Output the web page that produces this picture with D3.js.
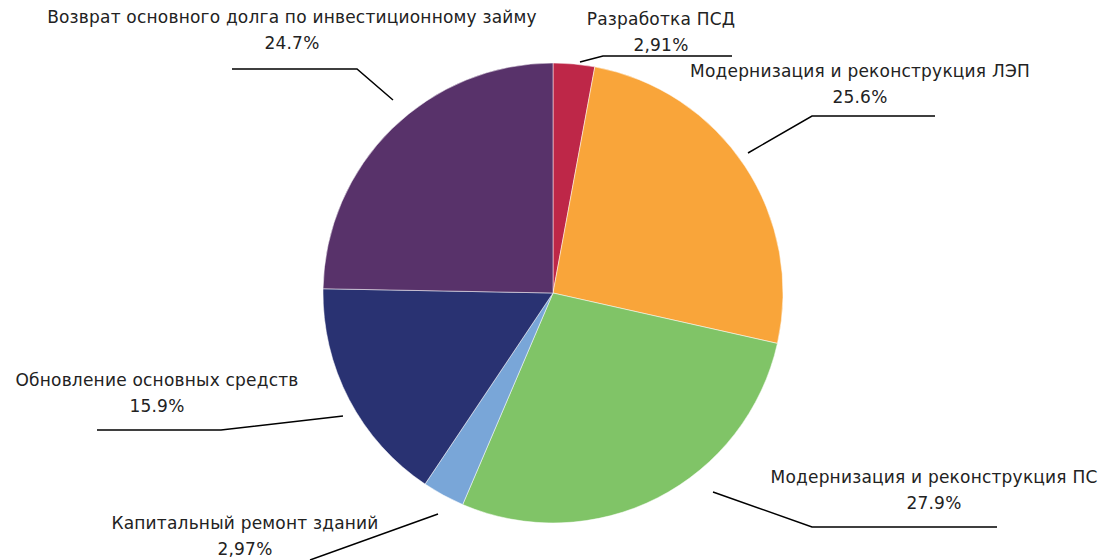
<!DOCTYPE html>
<html lang="ru">
<head>
<meta charset="UTF-8">
<title>Структура инвестиций</title>
<script src="https://cdn.jsdelivr.net/npm/d3@7"></script>
<style>
  body { margin: 0; background: #fff; }
  text { font-family: "DejaVu Sans", sans-serif; font-size: 17px; letter-spacing: 0.2px; fill: #222; }
</style>
</head>
<body>
<svg width="1106" height="560"></svg>
<script>
// данные диаграммы
var categories = [
  "Разработка ПСД",
  "Модернизация и реконструкция ЛЭП",
  "Модернизация и реконструкция ПС",
  "Капитальный ремонт зданий",
  "Обновление основных средств",
  "Возврат основного долга по инвестиционному займу"
];
var values = [2.91, 25.6, 27.9, 2.97, 15.9, 24.7];
var valueLabels = ["2,91%", "25.6%", "27.9%", "2,97%", "15.9%", "24.7%"];
var colors = ["#be2748", "#f9a53a", "#80c467", "#79a6d8", "#293272", "#58326a"];

// раскладка подписей (x, y центра текста и точки выносной линии)
var labelLayout = [
  { x: 661, y: 20,  line: [[580, 62], [603, 56], [732, 56]] },
  { x: 860, y: 72,  line: [[748, 153], [812, 116], [935, 116]] },
  { x: 934, y: 478, line: [[713, 492], [812, 527], [997, 527]] },
  { x: 245, y: 524, line: [[438, 514], [310, 560]] },
  { x: 157, y: 381, line: [[343, 416], [221, 430], [97, 430]] },
  { x: 292, y: 18,  line: [[393, 100], [357, 69], [232, 69]] }
];

var width = 1106, height = 560;
var cx = 553, cy = 293, radius = 230;
var svg = d3.select("svg");

var pie = d3.pie().sort(null).value(function(d){ return d; });
var arc = d3.arc().innerRadius(0).outerRadius(radius);

var g = svg.append("g").attr("transform", "translate(" + cx + "," + cy + ")");
g.selectAll("path")
  .data(pie(values))
  .enter()
  .append("path")
  .attr("d", arc)
  .attr("fill", function(d, i){ return colors[i]; })
  .attr("stroke", "#fff")
  .attr("stroke-width", 0.5);

// выносные линии
var line = d3.line();
svg.selectAll("path.leader")
  .data(labelLayout)
  .enter()
  .append("path")
  .attr("class", "leader")
  .attr("d", function(d){ return line(d.line); })
  .attr("fill", "none")
  .attr("stroke", "#000")
  .attr("stroke-width", 1.5);

// подписи
var labels = svg.selectAll("g.label")
  .data(labelLayout)
  .enter()
  .append("g")
  .attr("class", "label");
labels.append("text")
  .attr("x", function(d){ return d.x; })
  .attr("y", function(d){ return d.y; })
  .attr("text-anchor", "middle")
  .attr("dominant-baseline", "middle")
  .text(function(d, i){ return categories[i]; });
labels.append("text")
  .attr("x", function(d){ return d.x; })
  .attr("y", function(d){ return d.y + 26; })
  .attr("text-anchor", "middle")
  .attr("dominant-baseline", "middle")
  .text(function(d, i){ return valueLabels[i]; });
</script>
</body>
</html>
